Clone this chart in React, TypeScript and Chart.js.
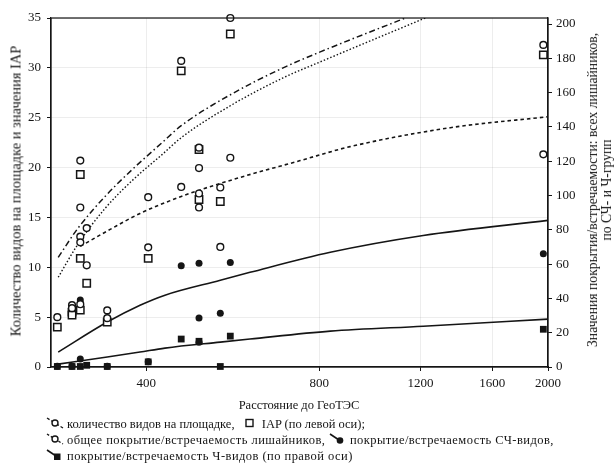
import React, { useEffect, useRef } from "react";
import { Chart, registerables } from "chart.js";

Chart.register(...registerables);

// ---- axes ----
const xTicks = [400, 800, 1200, 1600, 2000];
const leftTicks = [0, 5, 10, 15, 20, 25, 30, 35];
const rightTicks = [0, 20, 40, 60, 80, 100, 120, 140, 160, 180, 200];

// ---- open circles: species count (left axis) ----
const countDist = [280, 297, 297, 307, 307, 307, 315, 342, 403, 460, 494, 494, 538, 560, 1963];
const countVals = [5.0, 6.2, 5.9, 20.7, 12.5, 6.3, 10.2, 4.9, 12.0, 30.7, 22.0, 17.4, 18.0, 35.0, 32.3];

// ---- open squares: IAP (left axis) ----
const iapDist = [280, 297, 297, 307, 307, 307, 315, 342, 403, 460, 494, 494, 538, 560, 1963];
const iapVals = [4.0, 5.5, 5.2, 19.3, 10.9, 5.7, 8.4, 4.5, 10.9, 29.7, 21.8, 16.8, 16.6, 33.4, 31.3];

// ---- open circles: total lichen cover (right axis) ----
const coverDist = [307, 307, 315, 342, 403, 460, 494, 494, 538, 560, 1963];
const coverVals = [93, 76, 81, 33, 99, 105, 116, 93, 70, 122, 124];

// ---- filled circles: SCh-species cover (right axis) ----
const schDist = [280, 297, 307, 307, 342, 403, 460, 494, 494, 494, 538, 560, 1963];
const schVals = [0.5, 0.5, 39, 4.6, 0.5, 3, 59, 60.5, 28.5, 14.5, 31.4, 61, 66];

// ---- filled squares: Ch-species cover (right axis) ----
const chDist = [280, 297, 307, 315, 342, 403, 460, 494, 538, 560, 1963];
const chVals = [0.3, 0.3, 0.3, 1, 0.3, 3, 16.3, 15, 0.3, 18, 22];

// ---- trend lines ----
const dashDotDist = [281, 304, 339, 378, 426, 460, 560, 692, 803, 1129];
const dashDotVals = [11.0, 13.9, 17.1, 19.8, 22.5, 24.2, 27.3, 30.0, 31.6, 35.0];

const dottedDist = [281, 304, 339, 378, 426, 460, 560, 692, 803, 1223];
const dottedVals = [9.0, 12.3, 15.9, 18.7, 21.3, 23.0, 26.2, 29.0, 30.6, 35.0];

const dashedDist = [307, 346, 390, 460, 566, 741, 905, 1353, 2000];
const dashedVals = [12.1, 13.8, 15.4, 17.1, 18.8, 20.7, 22.1, 24.0, 25.1];

const solidHiDist = [281, 342, 390, 431, 538, 606, 836, 1213, 2000];
const solidHiVals = [8.7, 26.2, 36.0, 41.9, 50.6, 55.2, 66.9, 76.7, 85.5];

const solidLoDist = [281, 342, 390, 431, 538, 606, 836, 1213, 2000];
const solidLoVals = [1.7, 5.8, 8.7, 11.0, 14.5, 16.3, 20.9, 23.8, 27.9];

const pts = (xs: number[], ys: number[]) => xs.map((x, i) => ({ x, y: ys[i] }));

const FONT = "'Liberation Serif', 'DejaVu Serif', serif";
const INK = "#151515";

const framePlugin = {
  id: "frame",
  afterDatasetsDraw(chart: any) {
    const { ctx, chartArea } = chart;
    ctx.save();
    ctx.strokeStyle = INK;
    ctx.lineWidth = 1.2;
    ctx.strokeRect(chartArea.left, chartArea.top, chartArea.right - chartArea.left, chartArea.bottom - chartArea.top);
    ctx.restore();
  },
};

function Mark({ kind }: { kind: string }) {
  const line =
    kind === "circleDashDot" ? (
      <line x1="1" y1="1" x2="17" y2="11" stroke={INK} strokeWidth="1.3" strokeDasharray="3,2,1,2" />
    ) : kind === "circleDash" ? (
      <line x1="1" y1="1" x2="17" y2="11" stroke={INK} strokeWidth="1.3" strokeDasharray="2.5,2" />
    ) : kind === "dotLine" || kind === "squareLine" ? (
      <line x1="1" y1="1" x2="10" y2="7" stroke={INK} strokeWidth="1.6" />
    ) : null;
  const marker =
    kind === "square" ? (
      <rect x="5" y="2.5" width="7" height="7" fill="white" stroke={INK} strokeWidth="1.4" />
    ) : kind === "dotLine" ? (
      <circle cx="11" cy="7.5" r="3.3" fill={INK} />
    ) : kind === "squareLine" ? (
      <rect x="8" y="4.5" width="6.5" height="6.5" fill={INK} />
    ) : (
      <circle cx="9" cy="6" r="3" fill="white" stroke={INK} strokeWidth="1.4" />
    );
  return (
    <svg width="18" height="12" style={{ verticalAlign: "-1px", marginRight: 3 }}>
      {line}
      {marker}
    </svg>
  );
}

export default function App() {
  const ref = useRef<HTMLCanvasElement>(null);

  useEffect(() => {
    if (!ref.current) return;
    const openCircle = {
      pointStyle: "circle",
      pointRadius: 3.4,
      pointBorderWidth: 1.4,
      pointBorderColor: INK,
      pointBackgroundColor: "white",
      showLine: false,
      clip: false,
    };
    const lineBase = {
      showLine: true,
      pointRadius: 0,
      borderColor: INK,
      backgroundColor: INK,
      cubicInterpolationMode: "monotone",
      fill: false,
    };
    const chart = new Chart(ref.current, {
      type: "scatter",
      data: {
        datasets: [
          { ...openCircle, label: "count", data: pts(countDist, countVals), yAxisID: "y" } as any,
          {
            label: "IAP",
            data: pts(iapDist, iapVals),
            yAxisID: "y",
            pointStyle: "rect",
            pointRadius: 5.2,
            pointBorderWidth: 1.5,
            pointBorderColor: INK,
            pointBackgroundColor: "white",
            clip: false,
          } as any,
          { ...openCircle, label: "cover", data: pts(coverDist, coverVals), yAxisID: "y1" } as any,
          {
            label: "sch",
            data: pts(schDist, schVals),
            yAxisID: "y1",
            pointStyle: "circle",
            pointRadius: 3.5,
            pointBorderWidth: 0,
            pointBackgroundColor: INK,
            clip: false,
          } as any,
          {
            label: "ch",
            data: pts(chDist, chVals),
            yAxisID: "y1",
            pointStyle: "rect",
            pointRadius: 4.8,
            pointBorderWidth: 0,
            pointBackgroundColor: INK,
            clip: false,
          } as any,
          { ...lineBase, label: "dashdot", data: pts(dashDotDist, dashDotVals), yAxisID: "y", borderWidth: 1.5, borderDash: [6, 3, 1.5, 3] } as any,
          { ...lineBase, label: "dotted", data: pts(dottedDist, dottedVals), yAxisID: "y", borderWidth: 1.4, borderDash: [1.5, 2] } as any,
          { ...lineBase, label: "dashed", data: pts(dashedDist, dashedVals), yAxisID: "y", borderWidth: 1.6, borderDash: [3.5, 3] } as any,
          { ...lineBase, label: "solidHi", data: pts(solidHiDist, solidHiVals), yAxisID: "y1", borderWidth: 1.6 } as any,
          { ...lineBase, label: "solidLo", data: pts(solidLoDist, solidLoVals), yAxisID: "y1", borderWidth: 1.6 } as any,
        ],
      },
      options: {
        animation: false,
        responsive: false,
        devicePixelRatio: 1,
        layout: { padding: { top: 18, left: 0, right: 0, bottom: 0 } },
        plugins: { legend: { display: false }, tooltip: { enabled: false } },
        scales: {
          x: {
            type: "logarithmic",
            min: 273,
            max: 2000,
            afterBuildTicks: (s: any) => {
              s.ticks = xTicks.map((v) => ({ value: v }));
            },
            afterFit: (s: any) => {
              s.height = 96;
            },
            ticks: {
              callback: (v: any) => String(v),
              autoSkip: false,
              maxRotation: 0,
              padding: 5,
              color: INK,
              font: { family: FONT, size: 13 },
            },
            grid: { color: "rgba(0,0,0,0.07)", tickColor: INK, tickLength: 4 },
            border: { color: INK, width: 1.2 },
          },
          y: {
            position: "left",
            min: 0,
            max: 35,
            afterBuildTicks: (s: any) => {
              s.ticks = leftTicks.map((v) => ({ value: v }));
            },
            afterFit: (s: any) => {
              s.width = 51;
            },
            ticks: { padding: 6, color: INK, font: { family: FONT, size: 13 } },
            grid: { color: "rgba(0,0,0,0.07)", tickColor: INK, tickLength: 4 },
            border: { color: INK, width: 1.2 },
          },
          y1: {
            position: "right",
            min: 0,
            max: 203.5,
            afterBuildTicks: (s: any) => {
              s.ticks = rightTicks.map((v) => ({ value: v }));
            },
            afterFit: (s: any) => {
              s.width = 68;
            },
            ticks: { padding: 4, color: INK, font: { family: FONT, size: 13 } },
            grid: { drawOnChartArea: false, tickColor: INK, tickLength: 4 },
            border: { color: INK, width: 1.2 },
          },
        },
      } as any,
      plugins: [framePlugin],
    });
    return () => chart.destroy();
  }, []);

  const textStyle: React.CSSProperties = {
    position: "absolute",
    fontFamily: FONT,
    color: INK,
    whiteSpace: "nowrap",
  };

  return (
    <div style={{ position: "fixed", left: 0, top: 0, width: 616, height: 463, background: "white", overflow: "hidden" }}>
      <canvas ref={ref} width={616} height={463} style={{ width: 616, height: 463, display: "block" }} />
      <div
        style={{
          ...textStyle,
          left: 16,
          top: 191,
          fontSize: 14.5,
          transform: "translate(-50%, -50%) rotate(-90deg)",
        }}
      >
        Количество видов на площадке и значения IAP
      </div>
      <div
        style={{
          ...textStyle,
          left: 600,
          top: 190,
          fontSize: 13.7,
          lineHeight: "14px",
          textAlign: "center",
          transform: "translate(-50%, -50%) rotate(-90deg)",
        }}
      >
        Значения покрытия/встречаемости: всех лишайников,
        <br />
        по СЧ- и Ч-групп
      </div>
      <div style={{ ...textStyle, left: 299, top: 405, fontSize: 12.5, transform: "translate(-50%, -50%)" }}>
        Расстояние до ГеоТЭС
      </div>
      <div style={{ ...textStyle, left: 46, top: 416, fontSize: 12.5, lineHeight: "16px" }}>
        <Mark kind="circleDashDot" />
        количество видов на площадке,&nbsp;&nbsp;
        <Mark kind="square" />
        IAP (по левой оси);
      </div>
      <div style={{ ...textStyle, left: 46, top: 432, fontSize: 12.5, lineHeight: "16px", letterSpacing: "0.45px" }}>
        <Mark kind="circleDash" />
        общее покрытие/встречаемость лишайников,&nbsp;
        <Mark kind="dotLine" />
        покрытие/встречаемость СЧ-видов,
      </div>
      <div style={{ ...textStyle, left: 46, top: 448, fontSize: 12.5, lineHeight: "16px", letterSpacing: "0.45px" }}>
        <Mark kind="squareLine" />
        покрытие/встречаемость Ч-видов (по правой оси)
      </div>
    </div>
  );
}
